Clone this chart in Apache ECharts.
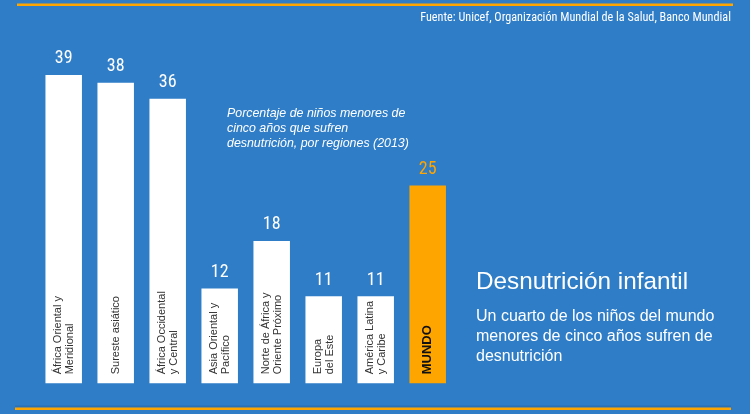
<!DOCTYPE html>
<html>
<head>
<meta charset="utf-8">
<script src="https://cdn.jsdelivr.net/npm/echarts@6/dist/echarts.min.js"></script>
<style>
html,body{margin:0;padding:0;background:#2f7dc7;}
#c{width:750px;height:414px;}
</style>
</head>
<body>
<div id="c"></div>
<script>
const categories = [
  "África Oriental y\nMeridional",
  "Sureste asiático",
  "África Occidental\ny Central",
  "Asia Oriental y\nPacífico",
  "Norte de África y\nOriente Próximo",
  "Europa\ndel Este",
  "América Latina\ny Caribe",
  "MUNDO"
];
const values = [39, 38, 36, 12, 18, 11, 11, 25];
const highlightIndex = 7;

const BG = '#2f7dc7';
const ORANGE = '#ffa500';
const NARROW = "'Liberation Sans Narrow', 'Arial Narrow', 'Roboto Condensed', sans-serif";
const SANS = "'Liberation Sans', Arial, sans-serif";

const chart = echarts.init(document.getElementById('c'));

const barData = values.map((v, i) => i === highlightIndex ? {
  value: v,
  itemStyle: { color: ORANGE },
  label: { fontWeight: 'bold', fontSize: 13, color: '#111' }
} : { value: v });

const topData = values.map((v, i) => i === highlightIndex ? {
  value: v, label: { color: ORANGE }
} : { value: v });

chart.setOption({
  backgroundColor: BG,
  animation: false,
  title: [
    {
      text: 'Fuente: Unicef, Organización Mundial de la Salud, Banco Mundial',
      right: 19, top: 11, padding: 0,
      textStyle: { color: '#fff', fontSize: 12.2, fontWeight: 'normal', fontFamily: NARROW, lineHeight: 14 }
    },
    {
      text: 'Porcentaje de niños menores de\ncinco años que sufren\ndesnutrición, por regiones (2013)',
      left: 227, top: 106.5, padding: 0,
      textStyle: { color: '#fff', fontSize: 12.4, fontStyle: 'italic', fontWeight: 'normal', fontFamily: SANS, lineHeight: 14.7 }
    },
    {
      text: 'Desnutrición infantil',
      left: 476, top: 270, padding: 0,
      textStyle: { color: '#fff', fontSize: 24.3, fontWeight: 'normal', fontFamily: SANS, lineHeight: 25 }
    },
    {
      text: 'Un cuarto de los niños del mundo\nmenores de cinco años sufren de\ndesnutrición',
      left: 476, top: 307, padding: 0,
      textStyle: { color: '#fff', fontSize: 16, fontWeight: 'normal', fontFamily: SANS, lineHeight: 19.7 }
    }
  ],
  graphic: [
    { type: 'rect', shape: { x: 17, y: 3.5, width: 716, height: 2.5 }, style: { fill: ORANGE }, silent: true },
    { type: 'rect', shape: { x: 15, y: 405.5, width: 716, height: 2 }, style: { fill: '#2a70b3' }, silent: true },
    { type: 'rect', shape: { x: 15, y: 407.5, width: 716, height: 2.5 }, style: { fill: ORANGE }, silent: true }
  ],
  grid: { left: 37.7, right: 296.3, top: 67, bottom: 30.7 },
  xAxis: {
    type: 'category', data: categories, show: false
  },
  yAxis: {
    type: 'value', min: 0, max: 40, show: false
  },
  series: [
    {
      type: 'bar',
      data: barData,
      barWidth: 36.5,
      barGap: '-100%',
      itemStyle: { color: '#ffffff' },
      label: {
        show: true,
        formatter: '{b}',
        position: 'insideBottom',
        distance: 9,
        rotate: 90,
        align: 'left',
        verticalAlign: 'middle',
        fontSize: 11,
        lineHeight: 12,
        color: '#333',
        fontFamily: SANS
      },
      z: 2
    },
    {
      type: 'bar',
      data: topData,
      barWidth: 36.5,
      barGap: '-100%',
      itemStyle: { color: 'rgba(0,0,0,0)' },
      label: {
        show: true,
        position: 'top',
        distance: 7,
        color: '#fff',
        fontSize: 18,
        fontFamily: NARROW
      },
      silent: true,
      z: 3
    }
  ]
});
</script>
</body>
</html>
